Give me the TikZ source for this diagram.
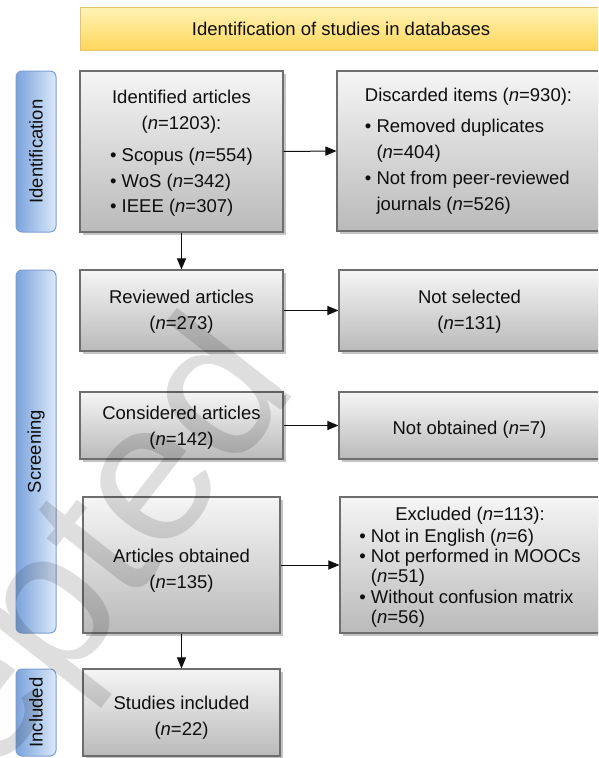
\documentclass[tikz,border=0pt]{standalone}
\usepackage{fontspec}
\setmainfont{Liberation Sans}
\usetikzlibrary{shadows,arrows.meta}
\definecolor{boxtop}{RGB}{245,245,245}
\definecolor{boxbot}{RGB}{186,186,186}
\definecolor{boxborder}{RGB}{110,110,110}
\definecolor{shadowgray}{RGB}{196,196,196}
\definecolor{bantop}{RGB}{255,243,182}
\definecolor{banbot}{RGB}{255,214,92}
\definecolor{banborder}{RGB}{226,196,110}
\definecolor{sidetop}{RGB}{220,233,251}
\definecolor{sidebot}{RGB}{122,163,221}
\definecolor{sideborder}{RGB}{125,158,208}
\definecolor{textcol}{RGB}{15,15,15}
\newcommand\topstrut[1]{\rule{0pt}{#1}}
\tikzset{
  graybox/.style={draw=boxborder, line width=1.1pt, top color=boxtop, bottom color=boxbot,
    drop shadow={shadow xshift=3pt, shadow yshift=-3pt, fill=shadowgray, opacity=1},
    inner sep=0pt, text=textcol, align=center,
    font=\fontsize{18.5}{26}\selectfont},
  banner/.style={draw=banborder, line width=1pt, top color=bantop, bottom color=banbot,
    inner sep=0pt, text=textcol, font=\fontsize{18.5}{22}\selectfont},
  sidelab/.style={draw=sideborder, line width=1pt, rounded corners=6pt, rotate=90,
    right color=sidetop, left color=sidebot, inner sep=0pt, text=textcol,
    minimum height=40pt, font=\fontsize{18.5}{22}\selectfont},
  arr/.style={draw=textcol, line width=1pt, -{Triangle[length=11pt,width=9pt]}},
  wmark/.style={font=\fontsize{200}{200}\selectfont, text=black, text opacity=0.13,
    inner sep=0pt, rotate=52, anchor=base east}
}
\begin{document}
\begin{tikzpicture}[x=1pt,y=-1pt]
\useasboundingbox (0,0) rectangle (598,758);
\clip (0,0) rectangle (598,758);
\fill[white] (0,0) rectangle (598,758);

% banner
\node[banner, minimum width=522pt, minimum height=43pt] (ban) at (341,28.5) {\topstrut{15pt}Identification of studies in databases};

% phase labels
\node[sidelab, minimum width=161pt] (lid) at (36,151.5) {Identification};
\node[sidelab, minimum width=363pt] (lscr) at (36,451.5) {Screening};
\node[sidelab, minimum width=87pt] (linc) at (36,712.5) {Included};

% boxes
\node[graybox, font=\fontsize{18.5}{25.5}\selectfont, minimum width=203pt, minimum height=161pt] (ident) at (181.5,151.5)
  {\topstrut{21.5pt}Identified articles\\(\textit{n}=1203):\\[7pt]\begin{tabular}[t]{@{}l@{}}• Scopus (\textit{n}=554)\\• WoS (\textit{n}=342)\\• IEEE (\textit{n}=307)\end{tabular}};
\node[graybox, minimum width=263pt, minimum height=160pt] (disc) at (468.5,151)
  {\begin{tabular}{@{}l@{}}Discarded items (\textit{n}=930):\\[5pt]• Removed duplicates\\\phantom{• }(\textit{n}=404)\\• Not from peer-reviewed\\\phantom{• }journals (\textit{n}=526)\end{tabular}};

\node[graybox, minimum width=203pt, minimum height=81pt] (rev) at (181.5,310.5)
  {\topstrut{16.5pt}Reviewed articles\\(\textit{n}=273)};
\node[graybox, minimum width=261pt, minimum height=81pt] (notsel) at (469.5,310.5)
  {\topstrut{16.5pt}Not selected\\(\textit{n}=131)};

\node[graybox, minimum width=203pt, minimum height=67pt] (cons) at (181.5,425.5)
  {\topstrut{18pt}Considered articles\\(\textit{n}=142)};
\node[graybox, minimum width=261pt, minimum height=67pt] (notob) at (469.5,425.5)
  {\topstrut{22pt}Not obtained (\textit{n}=7)};

\node[graybox, minimum width=197pt, minimum height=136pt] (art) at (181.5,565)
  {\topstrut{25pt}Articles obtained\\(\textit{n}=135)};
\node[graybox, minimum width=260pt, minimum height=136pt, font=\fontsize{18.5}{20.4}\selectfont] (excl) at (470,565)
  {\topstrut{20pt}Excluded (\textit{n}=113):\\[1.6pt]\begin{tabular}[t]{@{}l@{}}• Not in English (\textit{n}=6)\\• Not performed in MOOCs\\\phantom{• }(\textit{n}=51)\\• Without confusion matrix\\\phantom{• }(\textit{n}=56)\end{tabular}};

\node[graybox, minimum width=197pt, minimum height=87pt] (stud) at (181.5,712.5)
  {\topstrut{23pt}Studies included\\(\textit{n}=22)};

% connectors
\draw[arr] (ident.east) -- (disc.west);
\draw[arr] (ident.south) -- (rev.north);
\draw[arr] (rev.east) -- (notsel.west);
\draw[arr] (cons.east) -- (notob.west);
\draw[arr] (art.east) -- (excl.west);
\draw[arr] (art.south) -- (stud.north);

% watermark
\node[wmark] (wm) at (300,387) {Accepted};
\end{tikzpicture}
\end{document}
